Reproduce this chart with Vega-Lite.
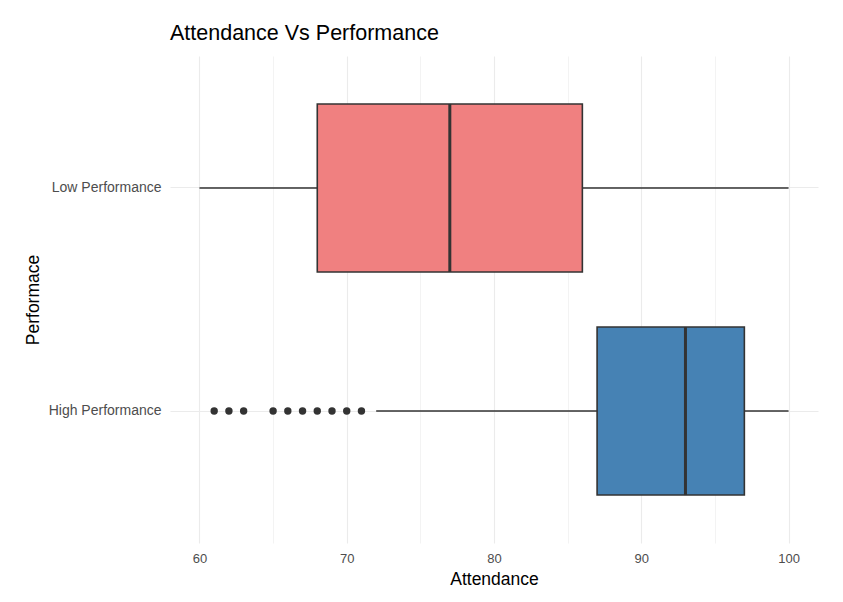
{
  "$schema": "https://vega.github.io/schema/vega-lite/v6.json",
  "width": 648,
  "height": 487,
  "autosize": {"type": "none"},
  "padding": {"left": 170, "top": 56, "right": 25, "bottom": 59},
  "background": "white",
  "config": {
    "view": {"stroke": null},
    "font": "Liberation Sans"
  },
  "title": {
    "text": "Attendance Vs Performance",
    "anchor": "start",
    "frame": "group",
    "fontSize": 21.5,
    "fontWeight": "normal",
    "color": "#000000",
    "font": "Liberation Sans",
    "offset": 12
  },
  "datasets": {
    "summary": [
      {"perf": "Low Performance", "lower": 60, "q1": 68, "median": 77, "q3": 86, "upper": 100},
      {"perf": "High Performance", "lower": 72, "q1": 87, "median": 93, "q3": 97, "upper": 100}
    ],
    "outliers": [
      {"perf": "High Performance", "attendance": 61},
      {"perf": "High Performance", "attendance": 62},
      {"perf": "High Performance", "attendance": 63},
      {"perf": "High Performance", "attendance": 65},
      {"perf": "High Performance", "attendance": 66},
      {"perf": "High Performance", "attendance": 67},
      {"perf": "High Performance", "attendance": 68},
      {"perf": "High Performance", "attendance": 69},
      {"perf": "High Performance", "attendance": 70},
      {"perf": "High Performance", "attendance": 71}
    ]
  },
  "layer": [
    {
      "data": {"name": "summary"},
      "mark": {"type": "rule", "color": "#333333", "strokeWidth": 1.5},
      "encoding": {
        "x": {
          "field": "lower", "type": "quantitative",
          "scale": {"domain": [58, 102], "nice": false, "zero": false},
          "axis": {
            "title": "Attendance",
            "titleFontSize": 17.5, "titleFontWeight": "normal", "titleColor": "#000000", "titlePadding": 5,
            "values": [60, 65, 70, 75, 80, 85, 90, 95, 100],
            "labelExpr": "datum.value % 10 == 0 ? datum.label : ''",
            "labelFontSize": 13, "labelColor": "#4D4D4D", "labelPadding": 9,
            "domain": false, "ticks": false,
            "grid": true, "gridColor": "#EBEBEB",
            "gridWidth": {"condition": {"test": "datum.value % 10 == 0", "value": 1.1}, "value": 0.6}
          }
        },
        "x2": {"field": "upper"},
        "y": {
          "field": "perf", "type": "nominal",
          "sort": ["Low Performance", "High Performance"],
          "scale": {"paddingInner": 0.247, "paddingOuter": 0.215},
          "axis": {
            "title": "Performace",
            "titleFontSize": 17.5, "titleFontWeight": "normal", "titleColor": "#000000", "titlePadding": 6,
            "labelFontSize": 14, "labelColor": "#4D4D4D", "labelPadding": 9,
            "domain": false, "ticks": false,
            "grid": true, "gridColor": "#EBEBEB", "gridWidth": 1.1, "bandPosition": 0.5
          }
        }
      }
    },
    {
      "data": {"name": "summary"},
      "mark": {"type": "bar", "stroke": "#333333", "strokeWidth": 1.6},
      "encoding": {
        "x": {"field": "q1", "type": "quantitative"},
        "x2": {"field": "q3"},
        "y": {"field": "perf", "type": "nominal", "sort": ["Low Performance", "High Performance"]},
        "fill": {
          "field": "perf", "type": "nominal",
          "scale": {"domain": ["Low Performance", "High Performance"], "range": ["#F08080", "#4682B4"]},
          "legend": null
        }
      }
    },
    {
      "data": {"name": "summary"},
      "mark": {"type": "tick", "color": "#333333", "size": 168, "thickness": 3, "opacity": 1},
      "encoding": {
        "x": {"field": "median", "type": "quantitative"},
        "y": {"field": "perf", "type": "nominal", "sort": ["Low Performance", "High Performance"]}
      }
    },
    {
      "data": {"name": "outliers"},
      "mark": {"type": "point", "filled": true, "color": "#333333", "size": 55, "opacity": 1},
      "encoding": {
        "x": {"field": "attendance", "type": "quantitative"},
        "y": {"field": "perf", "type": "nominal", "sort": ["Low Performance", "High Performance"]}
      }
    }
  ]
}
